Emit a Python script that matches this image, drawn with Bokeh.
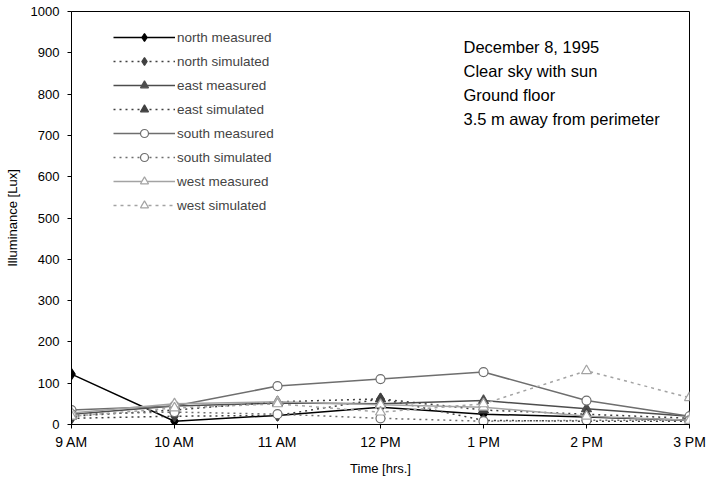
from bokeh.plotting import figure
from bokeh.models import Range1d, FixedTicker, Legend, LegendItem, Label
from bokeh.embed import file_html
from bokeh.resources import INLINE

hours = [9, 10, 11, 12, 13, 14, 15]
hour_labels = ["9 AM", "10 AM", "11 AM", "12 PM", "1 PM", "2 PM", "3 PM"]
y_ticks = [0, 100, 200, 300, 400, 500, 600, 700, 800, 900, 1000]

north_measured = [122, 8, 22, 42, 25, 18, 10]
north_simulated = [15, 20, 22, 62, 10, 8, 8]
east_measured = [25, 45, 52, 50, 58, 38, 20]
east_simulated = [20, 35, 55, 62, 35, 25, 15]
south_measured = [35, 45, 93, 110, 127, 58, 20]
south_simulated = [25, 30, 25, 15, 8, 10, 10]
west_measured = [28, 50, 55, 48, 42, 20, 10]
west_simulated = [20, 40, 50, 30, 50, 130, 65]

notes = ["December 8, 1995", "Clear sky with sun", "Ground floor", "3.5 m away from perimeter"]

FONT = "Liberation Sans"

W, H = 707, 479
BL, BR, BT, BB = 71, 18, 11, 55

p = figure(width=W, height=H, output_backend="svg", toolbar_location=None,
           x_range=Range1d(9, 15), y_range=Range1d(0, 1000),
           min_border_left=BL, min_border_right=BR, min_border_top=BT, min_border_bottom=BB)
p.grid.visible = False
p.outline_line_color = "black"
p.outline_line_width = 1
p.background_fill_color = "white"

p.xaxis.ticker = FixedTicker(ticks=hours)
p.xaxis.major_label_overrides = {h: l for h, l in zip(hours, hour_labels)}
p.yaxis.ticker = FixedTicker(ticks=y_ticks)
for ax in (p.xaxis, p.yaxis):
    ax.axis_line_color = "black"
    ax.major_tick_line_color = "black"
    ax.major_tick_in = 0
    ax.major_tick_out = 4
    ax.minor_tick_line_color = None
    ax.major_label_text_font = FONT
    ax.major_label_text_color = "black"
    ax.axis_label_text_font = FONT
    ax.axis_label_text_font_size = "13px"
    ax.axis_label_text_font_style = "normal"
    ax.axis_label_text_color = "black"
p.xaxis.major_label_text_font_size = "14px"
p.yaxis.major_label_text_font_size = "13px"
p.xaxis.axis_label = "Time [hrs.]"
p.yaxis.axis_label = "Illuminance [Lux]"
p.xaxis.major_label_standoff = 5
p.yaxis.major_label_standoff = 8
p.xaxis.axis_label_standoff = 8
p.yaxis.axis_label_standoff = 8

series = [
    ("north measured", north_measured, "black", "solid", "diamond", "black", 11),
    ("north simulated", north_simulated, "#404040", "2 4", "diamond", "#404040", 11),
    ("east measured", east_measured, "#4d4d4d", "solid", "triangle", "#4d4d4d", 10),
    ("east simulated", east_simulated, "#404040", "2 4", "triangle", "#404040", 10),
    ("south measured", south_measured, "#6e6e6e", "solid", "circle", None, 9),
    ("south simulated", south_simulated, "#6e6e6e", "2 4", "circle", None, 9),
    ("west measured", west_measured, "#a3a3a3", "solid", "triangle", None, 10),
    ("west simulated", west_simulated, "#a3a3a3", "3 4", "triangle", None, 10),
]

items = []
for name, vals, color, dash, marker, fill, size in series:
    r1 = p.line(hours, vals, line_color=color, line_width=1.5, line_dash=dash)
    r2 = p.scatter(hours, vals, marker=marker, size=size, line_color=color,
                   fill_color=fill if fill else "white", line_width=1.2)
    items.append(LegendItem(label=name, renderers=[r1, r2]))

frame_h = H - BT - BB
legend = Legend(items=items, location=(42, frame_h - 16 - 188), padding=0, margin=0, spacing=4,
                glyph_width=62, glyph_height=20, label_height=20,
                label_standoff=2, label_text_font=FONT, label_text_font_size="13.5px",
                border_line_color=None, background_fill_alpha=0)
p.add_layout(legend, "center")

for i, t in enumerate(notes):
    p.add_layout(Label(x=392, y=frame_h - 35 - i * 24, x_units="screen", y_units="screen", text=t,
                       text_font=FONT, text_font_size="16.5px", text_color="black",
                       text_baseline="middle"))

open("out.html", "w").write(file_html(p, INLINE))
